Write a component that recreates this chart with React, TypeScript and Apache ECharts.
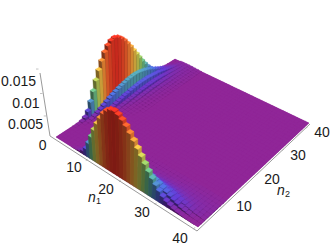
import React, { useEffect, useRef } from "react";
import * as echarts from "echarts";

// heights in units of 1e-4; index = larger of (n1, n2), row = smaller of (n1, n2)
const row0 = [0,0,0,0,0,0.3,1,3,8,18,36,56,76,94,110,124,134,140,142,139,133,125,115,104,92,80,68,56,45,35,26,18,12,8,5,3,2,1,0.5,0.2,0];
const row1 = [0,0,0,0,0,0,0,0.5,1,3,6,9,13,17,21,25,28,31,34,36,38,40,41,42,42,41,39,37,34,31,27,23,19,15,12,8,6,4,2,1,0.4];
const row2 = [0,0,0,0,0,0,0,0,0.3,0.6,1,2,3,4,6,8,10,12,14,16,17,19,20,21,22,22,22,22,21,20,19,18,16,14,12,10,8,6,4,3,2];
const row3 = [0,0,0,0,0,0,0,0,0,0.1,0.3,0.5,0.8,1.2,1.8,2.5,3.2,4,5,6,7,8,9,10,11,11.5,12,12,12,12,11.5,11,10,9,8,7,6,5,4,3,2];
const row4 = [0,0,0,0,0,0,0,0,0,0,0,0.1,0.2,0.4,0.6,0.9,1.2,1.6,2,2.5,3,3.6,4.2,4.8,5.4,6,6.5,7,7,7,7,6.8,6.5,6,5.5,5,4.5,4,3.4,2.8,2.2];
const row5 = [0,0,0,0,0,0,0,0,0,0,0,0,0,0.1,0.2,0.3,0.4,0.6,0.8,1,1.2,1.5,1.8,2.1,2.5,2.8,3.1,3.4,3.7,3.9,4,4,4,3.9,3.7,3.5,3.2,2.9,2.6,2.3,2];
const row6 = [0,0,0,0,0,0,0,0,0,0,0,0,0,0,0,0.1,0.2,0.2,0.3,0.4,0.5,0.6,0.8,1,1.2,1.4,1.6,1.8,2,2.1,2.3,2.4,2.5,2.5,2.5,2.4,2.3,2.2,2,1.8,1.6];
const row7 = [0,0,0,0,0,0,0,0,0,0,0,0,0,0,0,0,0,0.1,0.1,0.2,0.2,0.3,0.4,0.5,0.6,0.7,0.8,0.9,1,1.1,1.2,1.3,1.4,1.5,1.5,1.5,1.5,1.4,1.3,1.2,1.1];
const row8 = [0,0,0,0,0,0,0,0,0,0,0,0,0,0,0,0,0,0,0,0.1,0.1,0.1,0.2,0.2,0.3,0.3,0.4,0.5,0.5,0.6,0.7,0.7,0.8,0.8,0.9,0.9,0.9,0.9,0.8,0.8,0.7];
const rows = [row0, row1, row2, row3, row4, row5, row6, row7, row8];

const zTicks = [0, 0.005, 0.01, 0.015];
const nTicks = [10, 20, 30, 40];

// Rainbow colour function stops (fraction of maximum, r, g, b)
const rainbowStops = [
  [0, 120, 32, 127],
  [0.1, 85, 50, 180],
  [0.2, 68, 100, 196],
  [0.3, 75, 150, 160],
  [0.4, 100, 175, 120],
  [0.5, 150, 187, 85],
  [0.6, 205, 185, 70],
  [0.7, 225, 160, 55],
  [0.8, 230, 120, 48],
  [0.9, 225, 80, 38],
  [1, 215, 45, 32],
];
const zMax = 0.0142;

function rainbow(t: number, f: number) {
  const x = Math.max(0, Math.min(1, t));
  let i = 0;
  while (i < rainbowStops.length - 2 && x > rainbowStops[i + 1][0]) i++;
  const a = rainbowStops[i], b = rainbowStops[i + 1];
  const k = (x - a[0]) / (b[0] - a[0]);
  const c = [1, 2, 3].map((j) => Math.min(255, Math.round((a[j] + (b[j] - a[j]) * k) * f)));
  return `rgb(${c[0]},${c[1]},${c[2]})`;
}

// Camera: floor corners and vertical vanishing point
const A = [56, 137], B = [198, 227], C = [309, 123], D = [175, 59];
const V = [130, 640];
const S = -7.9;

function homography() {
  const [x0, y0] = A, [x1, y1] = B, [x2, y2] = C, [x3, y3] = D;
  const dx1 = x1 - x2, dx2 = x3 - x2, sx = x0 - x1 + x2 - x3;
  const dy1 = y1 - y2, dy2 = y3 - y2, sy = y0 - y1 + y2 - y3;
  const det = dx1 * dy2 - dx2 * dy1;
  const g = (sx * dy2 - dx2 * sy) / det;
  const h = (dx1 * sy - sx * dy1) / det;
  return [x1 - x0 + g * x1, x3 - x0 + h * x3, x0, y1 - y0 + g * y1, y3 - y0 + h * y3, y0, g, h, 1];
}
const H = homography();

// a, b: floor coordinates, 0..41 spans the grid; z: data height
function project(a: number, b: number, z: number) {
  const u = a / 41, v = b / 41;
  const w = H[6] * u + H[7] * v + 1 + S * z;
  return [
    (H[0] * u + H[1] * v + H[2] + S * z * V[0]) / w,
    (H[3] * u + H[4] * v + H[5] + S * z * V[1]) / w,
  ];
}

const cellValue = (n1: number, n2: number) => {
  const p = n1 < rows.length ? rows[n1][n2] : 0;
  const q = n2 < rows.length ? rows[n2][n1] : 0;
  return Math.max(p, q) * 1e-4;
};

const cells: number[][] = [];
for (let n1 = 0; n1 <= 40; n1++) {
  for (let n2 = 40; n2 >= 0; n2--) {
    cells.push([n1, n2, cellValue(n1, n2)]);
  }
}

function renderBar(_p: any, api: any) {
  const n1 = api.value(0), n2 = api.value(1), z = api.value(2);
  const t = z / zMax;
  const top = rainbow(t, 1.2);
  const children: any[] = [];
  const poly = (pts: number[][], fill: string, sw = 0.35) => ({
    type: "polygon",
    shape: { points: pts },
    style: { fill, stroke: fill, lineWidth: sw },
    silent: true,
  });
  if (z > 0) {
    children.push(
      poly(
        [project(n1 + 1, n2, 0), project(n1 + 1, n2 + 1, 0), project(n1 + 1, n2 + 1, z), project(n1 + 1, n2, z)],
        rainbow(t, 0.92)
      ),
      poly(
        [project(n1, n2, 0), project(n1 + 1, n2, 0), project(n1 + 1, n2, z), project(n1, n2, z)],
        rainbow(t, 0.58)
      )
    );
  }
  children.push(
    poly([project(n1, n2, z), project(n1 + 1, n2, z), project(n1 + 1, n2 + 1, z), project(n1, n2 + 1, z)], top)
  );
  return { type: "group", children };
}

const axisColor = "#9a9a9a";
const fontFamily = "'Liberation Sans', Arial, sans-serif";

function axisGraphics() {
  const g: any[] = [];
  const line = (p: number[], q: number[], lw = 1) =>
    g.push({
      type: "line",
      silent: true,
      shape: { x1: p[0], y1: p[1], x2: q[0], y2: q[1] },
      style: { stroke: axisColor, lineWidth: lw },
    });
  const label = (text: string, x: number, y: number, align = "center", size = 14, italic = false) =>
    g.push({
      type: "text",
      silent: true,
      x,
      y,
      style: {
        text,
        fill: "#1a1a1a",
        fontFamily,
        fontSize: size,
        fontStyle: italic ? "italic" : "normal",
        textAlign: align,
        textVerticalAlign: "middle",
      },
    });
  // backdrop under the bars so that no white shows between them
  g.push({
    type: "polygon",
    silent: true,
    shape: { points: [project(0, 0, 0), project(41, 0, 0), project(41, 41, 0), project(0, 41, 0)] },
    style: { fill: rainbow(0, 1.2) },
  });
  // n1, n2 and z axes, offset slightly from the floor
  const P0 = [50, 136], P1 = [197, 231], P2 = [310, 124], PZ = [40, 73];
  line(P0, P1);
  line(P1, P2);
  line(P0, PZ);
  nTicks.forEach((t) => {
    const a = project(t + 0.5, 0, 0);
    line([a[0] - 2.5, a[1] + 3.5], [a[0] - 1, a[1] + 1.5], 0.6);
    const b = project(41, t + 0.5, 0);
    line([b[0] - 2, b[1] + 4.5], [b[0] - 0.5, b[1] + 3], 0.6);
  });
  zTicks.slice(1).forEach((z) => {
    const p = project(-1.6, -1.2, z);
    line(p, [p[0] + 2.5, p[1]], 0.6);
  });

  label("0.015", 36, 81, "right");
  label("0.01", 39.5, 103, "right");
  label("0.005", 43, 124, "right");
  label("0", 46.5, 145, "right");
  label("10", 74, 167);
  label("20", 106, 189);
  label("30", 142, 212);
  label("40", 180, 238);
  label("n", 92, 197, "center", 14, true);
  label("1", 98.5, 200.5, "center", 9);
  label("10", 244, 206);
  label("20", 272, 179);
  label("30", 298, 155);
  label("40", 322, 132);
  label("n", 281, 190, "center", 14, true);
  label("2", 287.5, 193.5, "center", 9);
  return g;
}

export default function App() {
  const ref = useRef<HTMLDivElement>(null);
  useEffect(() => {
    const chart = echarts.init(ref.current!, undefined, { renderer: "svg" });
    chart.setOption({
      animation: false,
      backgroundColor: "#fff",
      graphic: { elements: axisGraphics() },
      series: [
        {
          type: "custom",
          coordinateSystem: "none",
          progressive: 0,
          silent: true,
          clip: false,
          data: cells,
          renderItem: renderBar,
        },
      ],
    });
    return () => chart.dispose();
  }, []);
  return <div ref={ref} style={{ position: "fixed", left: 0, top: 0, width: 332, height: 247 }} />;
}
